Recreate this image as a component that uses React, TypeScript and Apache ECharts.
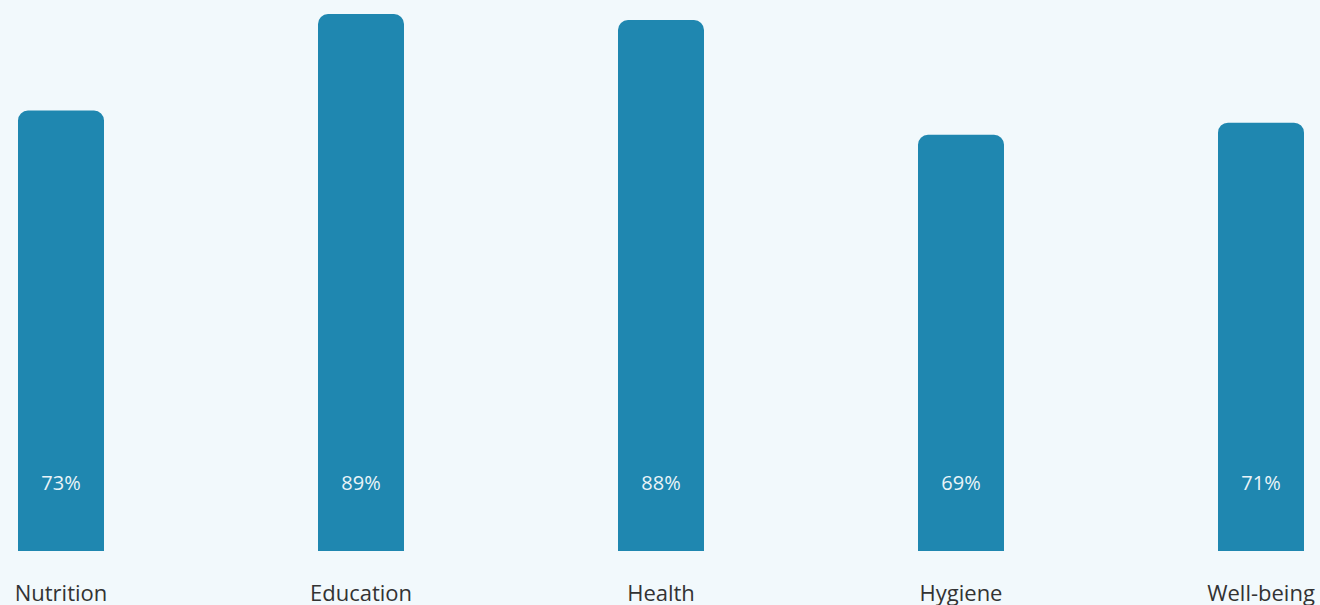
import React, { useEffect, useRef } from "react";
import * as echarts from "echarts";

const categories = ["Nutrition", "Education", "Health", "Hygiene", "Well-being"];
const values = [73, 89, 88, 69, 71];

export default function App() {
  const ref = useRef<HTMLDivElement>(null);
  useEffect(() => {
    if (!ref.current) return;
    const chart = echarts.init(ref.current, null, { renderer: "svg" });
    chart.setOption({
      animation: false,
      backgroundColor: "#f2f9fc",
      grid: { left: 61, right: 59, top: 8, bottom: 54, containLabel: false },
      xAxis: {
        type: "category",
        data: categories,
        boundaryGap: false,
        axisLine: { show: false },
        axisTick: { show: false },
        axisLabel: {
          color: "#333333",
          fontSize: 22,
          lineHeight: 20,
          fontFamily: "Open Sans",
          margin: 31,
        },
      },
      yAxis: {
        type: "value",
        min: 0,
        max: 90,
        show: false,
        splitLine: { show: false },
      },
      series: [
        {
          type: "bar",
          data: values,
          barWidth: 86,
          clip: false,
          itemStyle: { color: "#1f87b0", borderRadius: [10, 10, 0, 0] },
          label: {
            show: true,
            position: "insideBottom",
            distance: 59,
            formatter: "{c}%",
            color: "#eaf4f8",
            fontSize: 20,
            fontFamily: "Open Sans",
          },
        },
      ],
    });
    return () => chart.dispose();
  }, []);
  return (
    <div
      ref={ref}
      style={{ position: "fixed", left: 0, top: 0, width: 1320, height: 605 }}
    />
  );
}
